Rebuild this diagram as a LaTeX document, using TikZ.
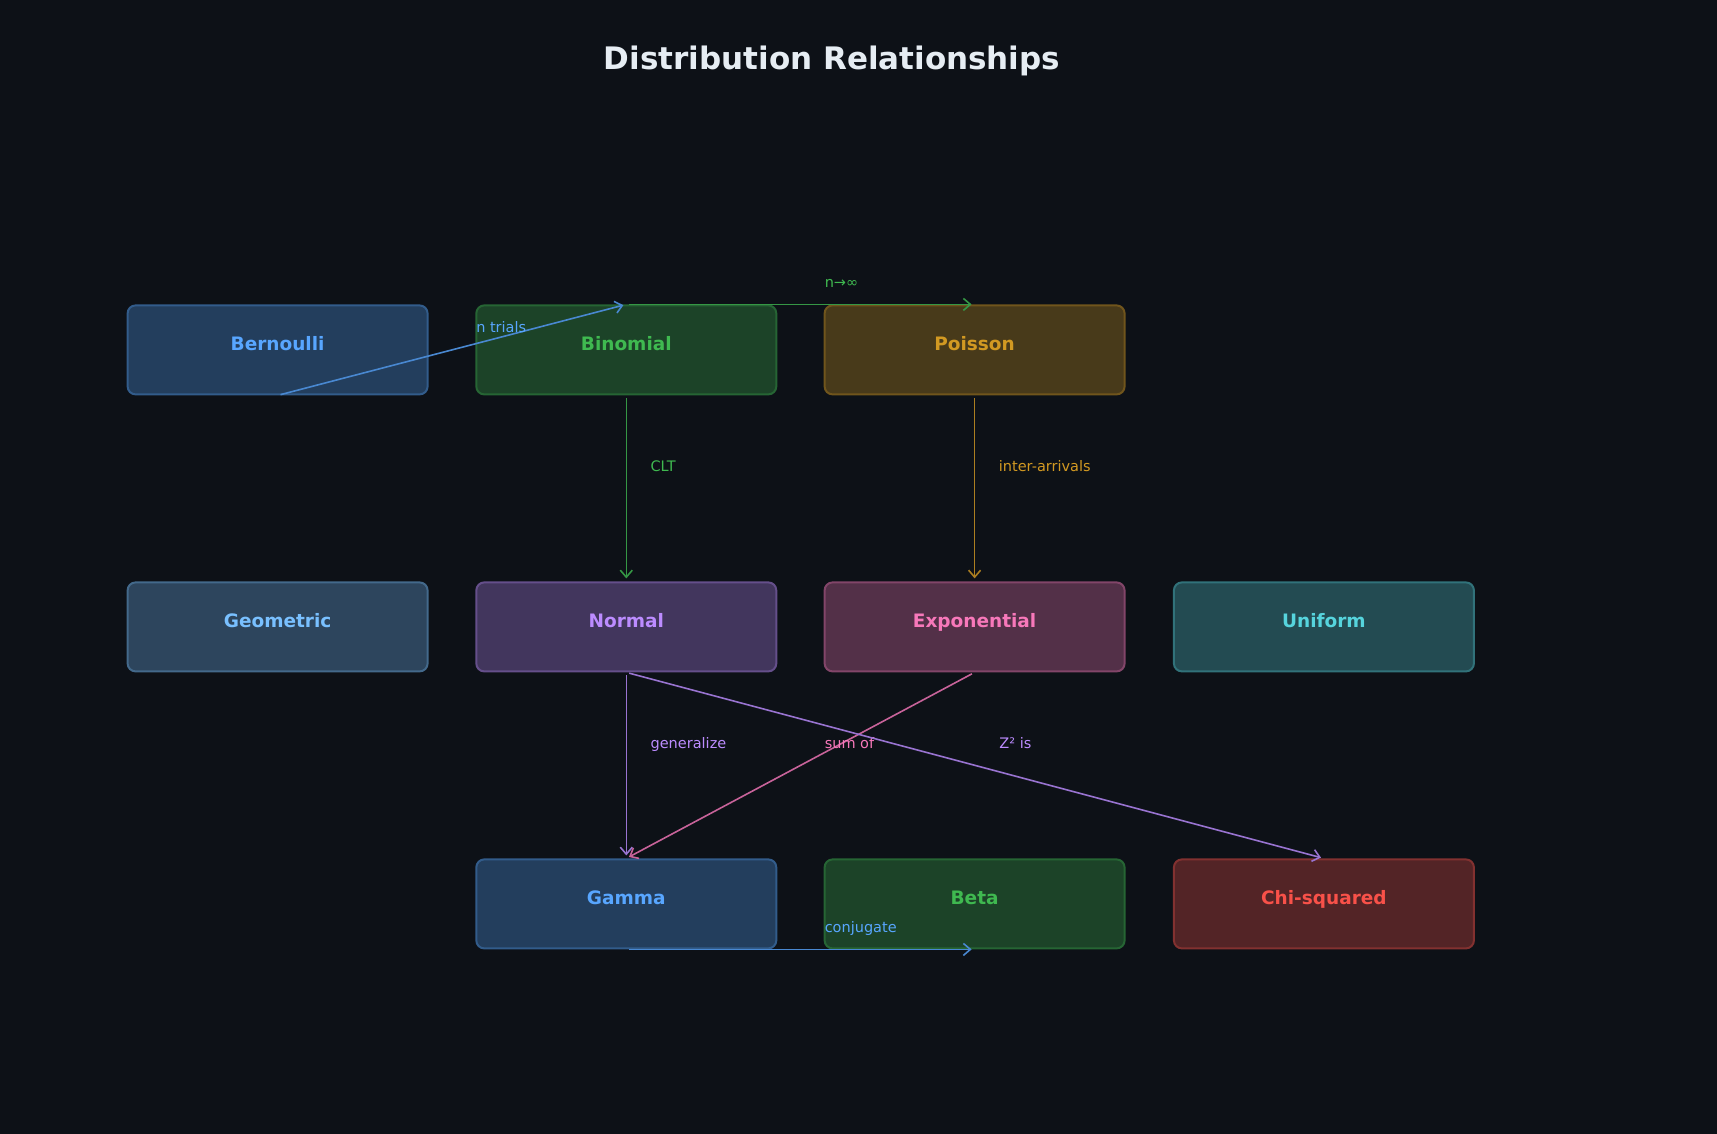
\documentclass[tikz,border=0pt]{standalone}
\usepackage{fontspec}
\setmainfont{DejaVu Sans}
\usetikzlibrary{arrows.meta}
\definecolor{PageBg}{HTML}{0D1117}
\definecolor{TitleInk}{HTML}{E6EDF3}
\definecolor{DistBlue}{HTML}{58A6FF}
\definecolor{DistSky}{HTML}{79C0FF}
\definecolor{DistGreen}{HTML}{3FB950}
\definecolor{DistGold}{HTML}{D29922}
\definecolor{DistPurple}{HTML}{BC8CFF}
\definecolor{DistPink}{HTML}{F778BA}
\definecolor{DistCyan}{HTML}{56D4DD}
\definecolor{DistRed}{HTML}{F85149}
\tikzset{
  figtitle/.style={font=\fontsize{31}{36}\selectfont\bfseries, text=TitleInk, anchor=base},
  distbox/.style={draw=#1!50!PageBg, fill=#1!30!PageBg, text=#1, rounded corners=8pt,
                  line width=2pt, minimum width=300pt, minimum height=89pt,
                  font=\fontsize{18.5}{22}\selectfont\bfseries,
                  text height=13.5pt, text depth=11.5pt},
  relarrow/.style={-{Straight Barb[length=7pt,width=12pt]}, line width=1.6pt, #1!80!PageBg,
                   shorten >=3pt, shorten <=3pt},
  rellabel/.style={font=\fontsize{14.5}{17}\selectfont, text=#1, anchor=west,
                   xshift=23.5pt, yshift=21pt, inner sep=0pt,
                   text height=11pt, text depth=3.5pt},
}
\begin{document}
\begin{tikzpicture}[x=1pt, y=-1pt]

  % ---- Page ----
  \fill[PageBg] (0,0) rectangle (1717,1134);
  \useasboundingbox (0,0) rectangle (1717,1134);

  \node[figtitle] (title) at (832,70) {Distribution Relationships};

  % ---- Top row ----
  \node[distbox=DistBlue]  (bern)   at (277.6,349.9) {Bernoulli};
  \node[distbox=DistGreen] (binom)  at (626.3,349.9) {Binomial};
  \node[distbox=DistGold]  (poiss)  at (974.6,349.9) {Poisson};

  % ---- Middle row ----
  \node[distbox=DistSky]    (geom)  at (277.6,626.9) {Geometric};
  \node[distbox=DistPurple] (norm)  at (626.3,626.9) {Normal};
  \node[distbox=DistPink]   (expo)  at (974.6,626.9) {Exponential};
  \node[distbox=DistCyan]   (unif)  at (1323.9,626.9) {Uniform};

  % ---- Bottom row ----
  \node[distbox=DistBlue]  (gamma) at (626.3,903.9) {Gamma};
  \node[distbox=DistGreen] (beta)  at (974.6,903.9) {Beta};
  \node[distbox=DistRed]   (chisq) at (1323.9,903.9) {Chi-squared};

  % ---- Relationships ----
  \draw[relarrow=DistBlue]   (bern.south)  -- node[rellabel=DistBlue]   {n trials}       (binom.north);
  \draw[relarrow=DistGreen]  (binom.north) -- node[rellabel=DistGreen]  {n→∞}            (poiss.north);
  \draw[relarrow=DistGreen]  (binom.south) -- node[rellabel=DistGreen]  {CLT}            (norm.north);
  \draw[relarrow=DistGold]   (poiss.south) -- node[rellabel=DistGold]   {inter-arrivals} (expo.north);
  \draw[relarrow=DistPurple] (norm.south)  -- node[rellabel=DistPurple] {generalize}     (gamma.north);
  \draw[relarrow=DistPink]   (expo.south)  -- node[rellabel=DistPink]   {sum of}         (gamma.north);
  \draw[relarrow=DistPurple] (norm.south)  -- node[rellabel=DistPurple] {Z² is}          (chisq.north);
  \draw[relarrow=DistBlue]   (gamma.south) -- node[rellabel=DistBlue]   {conjugate}      (beta.south);

\end{tikzpicture}
\end{document}
